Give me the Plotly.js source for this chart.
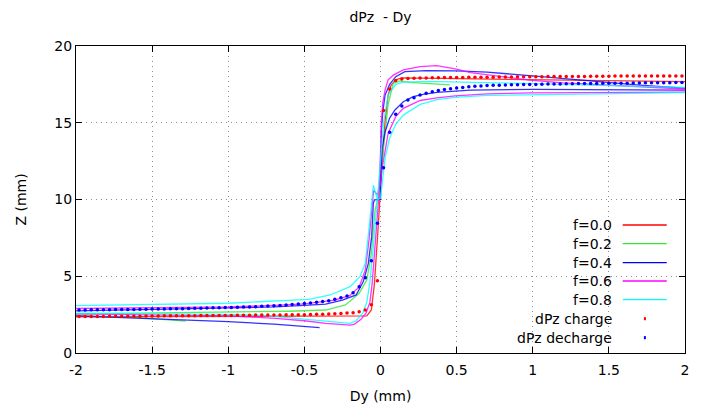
<!DOCTYPE html>
<html>
<head>
<meta charset="utf-8">
<script src="https://cdn.plot.ly/plotly-3.0.1.min.js"></script>
<style>html,body{margin:0;padding:0;background:#fff;}#chart{width:703px;height:414px;}</style>
</head>
<body>
<div id="chart"></div>
<script>
// ---- data ----
// f = 0.0 (red)
const f00_x = [-2.0,-1.5,-1.0,-0.5,-0.2,-0.09,-0.06,-0.04,-0.02,0.0,0.014,0.03,0.05,0.07,0.10,0.14,0.3,0.6,1.0,1.5,2.0];
const f00_y = [2.35,2.37,2.38,2.39,2.40,2.42,2.8,4.5,7.5,11.0,12.9,15.1,16.8,17.45,17.8,17.92,17.9,17.83,17.78,17.72,17.68];
// f = 0.2 (green)
const f02_x = [-2.0,-1.5,-1.0,-0.6,-0.36,-0.23,-0.14,-0.09,-0.06,-0.036,-0.014,0.0,0.02,0.05,0.084,0.128,0.19,0.3,0.456,null,-2.0,-1.6,-1.28];
const f02_y = [2.55,2.6,2.66,2.72,2.8,3.13,3.89,4.76,6.5,9.3,10.2,11.5,13.8,16.2,17.57,17.72,17.63,17.55,17.47,null,2.45,2.3,2.08];
// f = 0.4 (blue)
const f04_x = [-0.4,-0.7,-1.0,-1.5,-2.0,null,
  -2.0,-1.5,-1.0,-0.7,-0.5,-0.36,-0.25,-0.16,-0.113,-0.08,-0.058,-0.047,-0.04,0.0,0.003,0.006,0.015,0.03,0.06,0.1,0.16,0.3,0.5,0.7,1.0,1.2,1.46,1.7,2.0,null,
  0.0,0.01,0.03,0.06,0.095,0.15,0.215,0.28,0.37,0.59,1.0,1.5,2.0];
const f04_y = [1.65,1.88,2.04,2.25,2.42,null,
  2.75,2.83,2.91,3.0,3.1,3.19,3.45,3.78,4.65,5.84,7.58,9.75,9.97,10.0,12.5,14.5,15.7,16.8,17.5,18.0,18.33,18.39,18.38,18.3,18.05,17.88,17.68,17.45,17.25,null,
  11.0,13.3,14.4,15.3,15.83,16.37,16.7,16.85,16.98,17.13,17.17,17.15,17.12];
// f = 0.6 (magenta)
const f06_x = [-2.0,-1.5,-1.0,-0.69,-0.5,-0.36,-0.2,-0.17,-0.128,-0.095,-0.07,-0.055,-0.04,-0.025,-0.01,0.0,0.005,0.015,0.03,0.05,0.084,0.15,0.26,0.37,0.5,0.59,0.8,0.98,1.2,1.46,1.7,2.0,null,
  2.0,1.5,0.98,0.7,0.49,0.37,0.26,0.15,0.1,0.05,0.03,0.01,0.0,-0.02,-0.045,-0.055,-0.075,-0.1,-0.14,-0.2,-0.3,-0.5,-0.7,-1.0,-1.5,-2.0];
const f06_y = [2.55,2.5,2.42,2.26,2.1,1.93,1.82,1.88,2.2,2.6,3.3,4.5,6.3,8.3,10.3,13.0,15.0,16.3,17.13,17.8,18.1,18.44,18.65,18.72,18.5,18.26,17.98,17.78,17.6,17.46,17.33,17.2,null,
  17.0,16.98,16.95,16.88,16.75,16.62,16.45,15.94,15.4,14.3,13.2,12.0,11.0,10.3,10.6,9.6,7.4,5.4,4.3,3.75,3.45,3.2,3.1,3.0,2.95,2.9];
// f = 0.8 (cyan)
const f08_x = [-2.0,-1.5,-1.0,-0.77,-0.5,-0.36,-0.24,-0.2,-0.16,-0.117,-0.09,-0.07,-0.047,-0.03,-0.015,0.0,0.02,0.05,0.1,0.15,0.3,0.6,1.0,1.5,2.0,null,
  2.0,1.5,0.98,0.7,0.49,0.37,0.26,0.15,0.1,0.06,0.03,0.01,0.0,-0.02,-0.047,-0.058,-0.08,-0.1,-0.135,-0.2,-0.33,-0.47,-1.0,-1.5,-2.0];
const f08_y = [2.6,2.56,2.52,2.45,2.2,2.04,1.93,1.93,2.1,2.6,3.3,4.6,6.9,8.8,10.3,12.5,15.0,16.8,17.5,17.65,17.7,17.65,17.55,17.42,17.3,null,
  16.96,16.9,16.85,16.78,16.65,16.5,16.2,15.5,14.9,14.0,12.7,11.2,10.1,10.0,10.94,9.75,7.58,5.84,4.97,4.32,3.78,3.5,3.24,3.15,3.08];

// dPz charge (red dots) / dPz decharge (blue dots)
const dot_x = [-1.98,-1.94,-1.90,-1.86,-1.82,-1.78,-1.74,-1.70,-1.66,-1.62,-1.58,-1.54,-1.50,-1.46,-1.42,-1.38,-1.34,-1.30,-1.26,-1.22,
  -1.18,-1.14,-1.10,-1.06,-1.02,-0.98,-0.94,-0.90,-0.86,-0.82,-0.78,-0.74,-0.70,-0.66,-0.62,-0.58,-0.54,-0.50,-0.46,-0.42,
  -0.38,-0.34,-0.30,-0.26,-0.22,-0.18,-0.14,-0.10,-0.06,-0.02,0.02,0.06,0.10,0.14,0.18,0.22,0.26,0.30,0.34,0.38,
  0.42,0.46,0.50,0.54,0.58,0.62,0.66,0.70,0.74,0.78,0.82,0.86,0.90,0.94,0.98,1.02,1.06,1.10,1.14,1.18,
  1.22,1.26,1.30,1.34,1.38,1.42,1.46,1.50,1.54,1.58,1.62,1.66,1.70,1.74,1.78,1.82,1.86,1.90,1.94,1.98];
const charge_y = [2.37,2.37,2.38,2.38,2.38,2.39,2.39,2.39,2.40,2.40,2.40,2.41,2.41,2.41,2.42,2.42,2.42,2.43,2.43,2.43,
  2.44,2.44,2.44,2.45,2.45,2.45,2.46,2.46,2.46,2.47,2.47,2.47,2.48,2.48,2.49,2.49,2.50,2.50,2.51,2.52,
  2.53,2.54,2.55,2.57,2.60,2.63,2.69,2.80,3.15,4.70,15.8,17.2,17.75,17.85,17.88,17.90,17.91,17.92,17.93,17.93,
  17.94,17.94,17.95,17.95,17.96,17.96,17.97,17.97,17.97,17.98,17.98,17.98,17.99,17.99,18.00,18.00,18.00,18.01,18.01,18.01,
  18.02,18.02,18.02,18.02,18.03,18.03,18.03,18.03,18.04,18.04,18.04,18.04,18.04,18.05,18.05,18.05,18.05,18.05,18.05,18.05];
const decharge_y = [2.80,2.80,2.81,2.81,2.82,2.82,2.83,2.83,2.84,2.84,2.85,2.85,2.86,2.87,2.87,2.88,2.89,2.89,2.90,2.91,
  2.92,2.93,2.94,2.95,2.96,2.97,2.98,2.99,3.00,3.02,3.04,3.06,3.08,3.10,3.13,3.16,3.19,3.22,3.26,3.30,
  3.35,3.41,3.50,3.60,3.71,3.93,4.32,4.91,6.01,8.45,12.07,14.38,15.55,16.09,16.48,16.63,16.80,16.92,17.02,17.10,
  17.16,17.21,17.26,17.30,17.34,17.37,17.40,17.42,17.44,17.45,17.46,17.47,17.48,17.49,17.50,17.50,17.51,17.52,17.52,17.53,
  17.54,17.54,17.55,17.55,17.56,17.56,17.57,17.57,17.58,17.58,17.58,17.59,17.59,17.60,17.60,17.60,17.61,17.61,17.62,17.62];

const xTicks = [-2,-1.5,-1,-0.5,0,0.5,1,1.5,2];
const xTickText = ['-2','-1.5','-1','-0.5','0','0.5','1','1.5','2'];
const yTicks = [0,5,10,15,20];

const names = ['f=0.0','f=0.2','f=0.4','f=0.6','f=0.8','dPz charge','dPz decharge'];
const colors = ['#ff0000','#33e633','#0000ff','#ff00ff','#00ffff','#ff0000','#0000ff'];

// ---- traces ----
const lineSets = [[f00_x,f00_y],[f02_x,f02_y],[f04_x,f04_y],[f06_x,f06_y],[f08_x,f08_y]];
const traces = lineSets.map((s,i)=>({
  x:s[0], y:s[1], type:'scatter', mode:'lines', name:names[i], connectgaps:false,
  line:{color:colors[i], width:1.3}, opacity:0.8, showlegend:false, hoverinfo:'skip'
}));
traces.push({x:dot_x, y:charge_y, type:'scatter', mode:'markers', name:names[5],
  marker:{color:colors[5], size:3.5, symbol:'circle', line:{width:0}}, showlegend:false});
traces.push({x:dot_x, y:decharge_y, type:'scatter', mode:'markers', name:names[6],
  marker:{color:colors[6], size:3.5, symbol:'circle', line:{width:0}}, showlegend:false});

// ---- custom gnuplot-style legend (text right, sample left) ----
const FONT = 'DejaVu Sans';
const rowY = [0.4169,0.3560,0.2942,0.2345,0.1736,0.1118,0.0500];
const annotations = [];
const shapes = [{type:'rect', xref:'paper', yref:'paper', x0:0.705, x1:0.998, y0:0.022, y1:0.46,
  fillcolor:'#ffffff', line:{width:0}, layer:'below'}];
names.forEach((n,i)=>{
  annotations.push({xref:'paper', yref:'paper', x:0.8834, y:rowY[i], xanchor:'right', yanchor:'middle',
    text:n, showarrow:false, font:{family:FONT, size:14, color:'#000'}});
  if(i<5){
    shapes.push({type:'line', xref:'paper', yref:'paper', x0:0.8977, x1:0.9700, y0:rowY[i], y1:rowY[i],
      line:{color:colors[i], width:1.3}});
  } else {
    shapes.push({type:'rect', xref:'paper', yref:'paper', x0:0.9325, x1:0.9358, y0:rowY[i]-0.005, y1:rowY[i]+0.005,
      fillcolor:colors[i], line:{width:0}});
  }
});

const layout = {
  width:703, height:414,
  margin:{l:76, r:18, t:46, b:61},
  paper_bgcolor:'#fff', plot_bgcolor:'#fff',
  font:{family:FONT, size:14, color:'#000'},
  title:{text:'dPz  - Dy', x:0.5413, xanchor:'center', y:0.958, yanchor:'middle', font:{family:FONT, size:14, color:'#000'}},
  showlegend:false,
  xaxis:{range:[-2,2], tickvals:xTicks, ticktext:xTickText, ticks:'inside', ticklen:6, tickcolor:'#000',
    showline:true, linecolor:'#000', linewidth:1, mirror:'ticks', zeroline:false, ticklabelstandoff:4,
    showgrid:true, gridcolor:'#8c8c8c', griddash:'1px,4px', gridwidth:1,
    title:{text:'Dy (mm)', standoff:14, font:{family:FONT, size:14}}, automargin:false},
  yaxis:{range:[0,20], tickvals:yTicks, ticks:'inside', ticklen:6, tickcolor:'#000',
    showline:true, linecolor:'#000', linewidth:1, mirror:'ticks', zeroline:false,
    showgrid:true, gridcolor:'#8c8c8c', griddash:'1px,4px', gridwidth:1,
    title:{text:'Z (mm)', standoff:24, font:{family:FONT, size:14}}, automargin:false},
  annotations:annotations, shapes:shapes
};

Plotly.newPlot('chart', traces, layout, {staticPlot:true, displayModeBar:false});
</script>
</body>
</html>
